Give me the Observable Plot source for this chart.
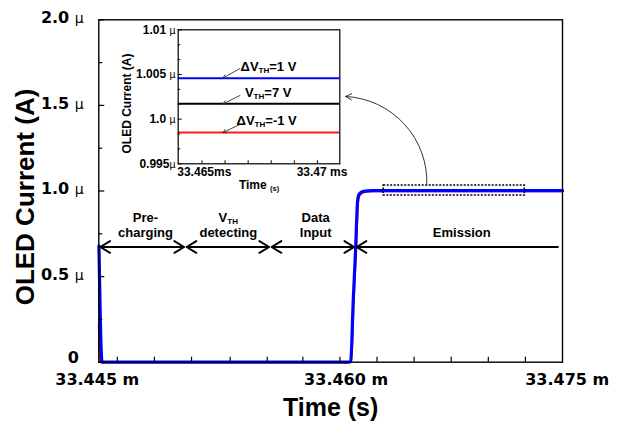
<!DOCTYPE html>
<html><head><meta charset="utf-8">
<script src="https://cdn.jsdelivr.net/npm/d3@7"></script>
<script src="https://cdn.jsdelivr.net/npm/@observablehq/plot@0.6"></script>
<style>
html,body{margin:0;padding:0;background:#fff;}
#wrap{position:relative;width:625px;height:427px;overflow:hidden;}
#inset{position:absolute;left:100px;top:10px;}
</style></head>
<body><div id="wrap"><div id="main"></div><div id="inset"></div></div>
<script>
// ---------- data (time in ms, current in µA) ----------
const xDomain = [33.445, 33.475];
const yDomain = [0, 2];
const xTickLabels = ["33.445 m", "33.460 m", "33.475 m"];
const xTickLabelPos = [33.4449, 33.4610, 33.4753];
const xMinorTicks = [33.4462, 33.4486, 33.4510, 33.4535, 33.4559, 33.4582, 33.4606, 33.4630, 33.4654, 33.4678, 33.4702, 33.4726];
const yMajorTicks = [0, 0.5, 1.0, 1.5, 2.0];
const yTickLabels = ["0", "0.5 ~{µ}", "1.0 ~{µ}", "1.5 ~{µ}", "2.0 ~{µ}"];
const yMinorTicks = [0.25, 0.75, 1.25, 1.75];

const blueTime = [33.44501, 33.44521, 33.46117, 33.46130, 33.46146, 33.46161, 33.46174, 33.46181, 33.46194, 33.46214, 33.46240, 33.46272, 33.47500];
const blueCurrent = [0.68, 0.0, 0.0, 0.005, 0.359, 0.65, 0.941, 0.975, 0.99, 0.998, 1.001, 1.002, 1.002];
const redTime = [33.44500, 33.44507, 33.46120, 33.46133, 33.46149, 33.46164, 33.46178, 33.46186, 33.46199, 33.46219, 33.46245, 33.46277, 33.47500];
const redCurrent = [0.22, 0.0, 0.0, 0.005, 0.355, 0.645, 0.935, 0.97, 0.985, 0.993, 0.997, 0.9985, 0.9985];

const phaseNames = ["Pre-\ncharging", "V_{TH}\ndetecting", "Data\nInput", "Emission"];
const phaseStart = [33.4451, 33.45068, 33.45618, 33.46168];
const phaseEnd = [33.45052, 33.45602, 33.46152, 33.4747];
const phaseLabelX = [33.44802, 33.45338, 33.45903, 33.46848];
const phaseArrowLevel = 0.673;
const phaseLabelLevel = 0.7285;

const zoomBoxTime = [33.46343, 33.47256];
const zoomBoxCurrent = [0.974, 1.032];
const calloutFrom = [33.46622, 1.032];
const calloutTo = [33.46097, 1.552];

const xTitle = "Time (s)";
const yTitle = "OLED Current (A)";

// inset
const insetXDomain = [33.46397, 33.47097];
const insetYDomain = [0.995, 1.01];
const insetSeries = ["ΔV_{TH}=1 V", "V_{TH}=7 V", "ΔV_{TH}=-1 V"];
const insetLevels = [1.00458, 1.00172, 0.9985];
const insetColors = ["#0000ff", "#000000", "#ff1a1a"];
const insetLabelX = [33.46667, 33.46686, 33.46650];
const insetLabelY = [1.00581, 1.00290, 0.99985];
const insetArrowFromX = [33.46664, 33.46664, 33.46664];
const insetArrowFromY = [1.00566, 1.00264, 0.99940];
const insetArrowToX = [33.46591, 33.46591, 33.46591];
const insetArrowToY = [1.00460, 1.00170, 0.99850];
const insetYMajor = [0.995, 1.0, 1.005, 1.01];
const insetYLabels = ["0.995~{µ}", "1.0 ~{µ}", "1.005 ~{µ}", "1.01 ~{µ}"];
const insetYMinor = [0.99667, 0.99833, 1.00167, 1.00333, 1.00667, 1.00833];
const insetXTicks = [33.465, 33.466, 33.467, 33.468, 33.469, 33.470];
const insetXLabels = ["33.465ms", "33.47 ms"];
const insetXLabelPos = [33.4651, 33.4702];
const insetXTitle = "Time _{(s)}";
const insetYTitle = "OLED Current (A)";

// ---------- tables ----------
const blue = blueTime.map((t, i) => ({t, v: blueCurrent[i]}));
const red = redTime.map((t, i) => ({t, v: redCurrent[i]}));
const phaseArrows = [];
phaseStart.forEach((s, i) => {
  const e = phaseEnd[i];
  if (i < 3) {
    const m = (s + e) / 2;
    phaseArrows.push({x1: m, x2: s}, {x1: m, x2: e});
  } else {
    phaseArrows.push({x1: e, x2: s});
  }
});
const phaseLabels = phaseNames.map((n, i) => ({n, x: phaseLabelX[i]}));
const xLab = xTickLabels.map((l, i) => ({l, x: xTickLabelPos[i]}));
const yLab = yTickLabels.map((l, i) => ({l, y: yMajorTicks[i]}));

const SANS = "'Liberation Sans', Arial, sans-serif";
const WIDE = "'DejaVu Sans', Verdana, sans-serif";

const main = Plot.plot({
  width: 625, height: 427,
  marginLeft: 98.3, marginRight: 63, marginTop: 19.3, marginBottom: 65.3,
  style: {background: "white", fontFamily: SANS, overflow: "visible"},
  x: {domain: xDomain, axis: null},
  y: {domain: yDomain, axis: null},
  marks: [
    Plot.line(red, {x: "t", y: "v", stroke: "#ff1a1a", strokeWidth: 2, curve: "monotone-x"}),
    Plot.line(blue, {x: "t", y: "v", stroke: "#0000ff", strokeWidth: 3.2, curve: "monotone-x", strokeLinejoin: "round"}),
    Plot.frame({stroke: "#000", strokeWidth: 1.4}),
    Plot.ruleY(yMajorTicks, {y: d => d, x1: xDomain[0], x2: xDomain[0], insetRight: -6, stroke: "#000", strokeWidth: 1.2}),
    Plot.ruleY(yMinorTicks, {y: d => d, x1: xDomain[0], x2: xDomain[0], insetRight: -4, stroke: "#000", strokeWidth: 1.2}),
    Plot.ruleX(xMinorTicks, {x: d => d, y1: yDomain[0], y2: yDomain[0], insetTop: -5, stroke: "#000", strokeWidth: 1.2}),
    Plot.text(xLab, {x: "x", text: "l", frameAnchor: "bottom", lineAnchor: "top", dy: 11, fontFamily: WIDE, fontWeight: "bold", fontSize: 16}),
    Plot.text(yLab.filter(d => d.l !== "0"), {y: "y", text: "l", frameAnchor: "left", textAnchor: "end", dx: -15, dy: -2, lineAnchor: "middle", fontFamily: WIDE, fontWeight: "bold", fontSize: 16}),
    Plot.text(yLab.filter(d => d.l === "0"), {y: "y", text: "l", frameAnchor: "left", textAnchor: "end", dx: -20, dy: -4, lineAnchor: "middle", fontFamily: WIDE, fontWeight: "bold", fontSize: 16}),
    Plot.text([xTitle], {frameAnchor: "bottom", textAnchor: "middle", lineAnchor: "bottom", dy: 54, fontWeight: "bold", fontSize: 25}),
    Plot.text([yTitle], {frameAnchor: "left", textAnchor: "middle", rotate: -90, lineAnchor: "middle", dx: -73.6, dy: 6, fontWeight: "bold", fontSize: 26}),
    Plot.arrow(phaseArrows, {x1: "x1", x2: "x2", y1: phaseArrowLevel, y2: phaseArrowLevel, stroke: "#000", strokeWidth: 2, headLength: 8.5, headAngle: 62}),
    Plot.text(phaseLabels, {x: "x", y: phaseLabelLevel, text: "n", lineAnchor: "bottom", lineHeight: 1.154, fontSize: 13, fontWeight: "bold"}),
    Plot.rect([0], {x1: zoomBoxTime[0], x2: zoomBoxTime[1], y1: zoomBoxCurrent[0], y2: zoomBoxCurrent[1], fill: "none", stroke: "#000", strokeWidth: 1.6, strokeDasharray: "2,1.5"}),
    Plot.arrow([0], {x1: calloutFrom[0], y1: calloutFrom[1], x2: calloutTo[0], y2: calloutTo[1], bend: -45, stroke: "#333", strokeWidth: 1, headLength: 10, headAngle: 55})
  ]
});

const insetTable = insetSeries.map((s, i) => ({
  s, v: insetLevels[i], c: insetColors[i], lx: insetLabelX[i], ly: insetLabelY[i],
  ax1: insetArrowFromX[i], ay1: insetArrowFromY[i], ax2: insetArrowToX[i], ay2: insetArrowToY[i]
}));
const insetYLab = insetYLabels.map((l, i) => ({l, y: insetYMajor[i]}));
const insetXLab = insetXLabels.map((l, i) => ({l, x: insetXLabelPos[i]}));

const inset = Plot.plot({
  width: 250, height: 190,
  marginLeft: 77.7, marginRight: 10.7, marginTop: 19.3, marginBottom: 36.7,
  style: {background: "transparent", fontFamily: SANS, overflow: "visible"},
  x: {domain: insetXDomain, axis: null},
  y: {domain: insetYDomain, axis: null},
  marks: [
    Plot.ruleY(insetTable, {y: "v", stroke: "c", strokeWidth: 2}),
    Plot.frame({stroke: "#000", strokeWidth: 1.2}),
    Plot.ruleY(insetYMajor, {y: d => d, x1: insetXDomain[0], x2: insetXDomain[0], insetRight: -4, stroke: "#000", strokeWidth: 1}),
    Plot.ruleY(insetYMinor, {y: d => d, x1: insetXDomain[0], x2: insetXDomain[0], insetRight: -2.5, stroke: "#000", strokeWidth: 1}),
    Plot.ruleX(insetXTicks, {x: d => d, y1: insetYDomain[0], y2: insetYDomain[0], insetTop: -3, stroke: "#000", strokeWidth: 1}),
    Plot.text(insetYLab, {y: "y", text: "l", frameAnchor: "left", textAnchor: "end", dx: -2.7, lineAnchor: "middle", fontWeight: "bold", fontSize: 12}),
    Plot.text(insetXLab, {x: "x", text: "l", frameAnchor: "bottom", lineAnchor: "middle", dy: 8.4, fontWeight: "bold", fontSize: 12}),
    Plot.text([insetXTitle], {frameAnchor: "bottom", textAnchor: "middle", lineAnchor: "middle", dy: 21, fontWeight: "bold", fontSize: 12}),
    Plot.text([insetYTitle], {frameAnchor: "left", textAnchor: "middle", rotate: -90, lineAnchor: "middle", dx: -50.7, dy: 6.7, fontWeight: "bold", fontSize: 12}),
    Plot.arrow(insetTable, {x1: "ax1", y1: "ay1", x2: "ax2", y2: "ay2", stroke: "#333", strokeWidth: 0.9, headLength: 6, headAngle: 60}),
    Plot.text(insetTable, {x: "lx", y: "ly", text: "s", textAnchor: "start", lineAnchor: "middle", fontWeight: "bold", fontSize: 13})
  ]
});

// ---------- rich text: _{sub} and ~{normal-weight} ----------
function richify(root) {
  root.querySelectorAll("text, tspan").forEach(el => {
    if ([...el.childNodes].some(n => n.nodeType !== 3)) return;
    const s = el.textContent;
    if (!/[_~]\{/.test(s)) return;
    el.textContent = "";
    const re = /([_~])\{([^}]*)\}/g;
    let last = 0, m;
    const add = (txt, kind) => {
      const t = document.createElementNS("http://www.w3.org/2000/svg", "tspan");
      t.textContent = txt;
      if (kind === "_") { t.setAttribute("font-size", "0.62em"); t.style.baselineShift = "-2px"; }
      if (kind === "~") { t.setAttribute("font-weight", "normal"); t.setAttribute("font-size", "0.88em"); }
      el.appendChild(t);
    };
    while ((m = re.exec(s))) {
      if (m.index > last) add(s.slice(last, m.index), null);
      add(m[2], m[1]);
      last = re.lastIndex;
    }
    if (last < s.length) add(s.slice(last), null);
  });
}
richify(main);
richify(inset);
document.getElementById("main").appendChild(main);
document.getElementById("inset").appendChild(inset);
</script>
</body></html>
